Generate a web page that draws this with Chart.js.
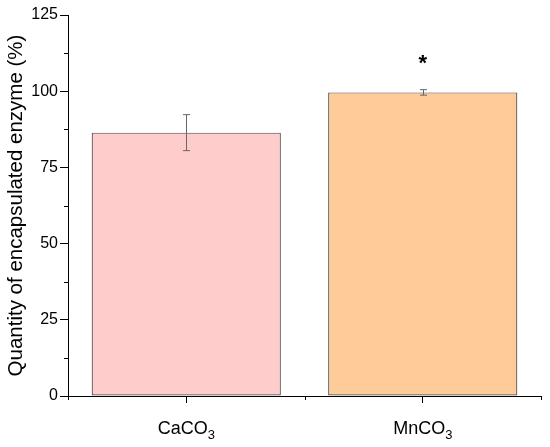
<!DOCTYPE html>
<html>
<head>
<meta charset="utf-8">
<script src="https://cdn.jsdelivr.net/npm/chart.js@4.4.1/dist/chart.umd.min.js"></script>
<style>
  html, body { margin: 0; padding: 0; background: #fff; }
  #wrap { width: 550px; height: 447px; position: relative; }
</style>
</head>
<body>
<div id="wrap"><canvas id="c"></canvas></div>
<script>
// ---- data ----
const categories = ['CaCO', 'MnCO'];
const subscripts = ['3', '3'];
const values = [86.4, 99.6];
const errors = [5.9, 0.9];
const significance = ['', '*'];
const barColors = ['#FFCCCC', '#FFCC99'];
const yTicks = [0, 25, 50, 75, 100, 125];
const yTitle = 'Quantity of encapsulated enzyme (%)';

const FONT = "'Liberation Sans', Arial, Helvetica, sans-serif";

const extrasPlugin = {
  id: 'extras',
  afterDatasetsDraw(chart) {
    const ctx = chart.ctx;
    const x = chart.scales.x, y = chart.scales.y;
    const meta = chart.getDatasetMeta(0);
    ctx.save();
    // error bars
    ctx.strokeStyle = '#666666';
    ctx.lineWidth = 1;
    meta.data.forEach((bar, i) => {
      const cx = Math.round(bar.x) + 0.5;
      const yt = y.getPixelForValue(values[i] + errors[i]);
      const yb = y.getPixelForValue(values[i] - errors[i]);
      ctx.beginPath();
      ctx.moveTo(cx, yt); ctx.lineTo(cx, yb);
      ctx.moveTo(cx - 3.5, yt); ctx.lineTo(cx + 3.5, yt);
      ctx.moveTo(cx - 3.5, yb); ctx.lineTo(cx + 3.5, yb);
      ctx.stroke();
    });
    // significance markers
    ctx.fillStyle = '#000';
    ctx.font = 'bold 22px ' + FONT;
    ctx.textAlign = 'center';
    ctx.textBaseline = 'alphabetic';
    meta.data.forEach((bar, i) => {
      if (!significance[i]) return;
      const yt = y.getPixelForValue(values[i] + errors[i]);
      ctx.fillText(significance[i], bar.x, yt - 19.5);
    });
    // minor ticks on y
    ctx.strokeStyle = '#000';
    ctx.beginPath();
    for (let k = 0; k < yTicks.length - 1; k++) {
      const v = (yTicks[k] + yTicks[k + 1]) / 2;
      const py = Math.round(y.getPixelForValue(v)) + 0.5;
      ctx.moveTo(x.left, py); ctx.lineTo(x.left - 4, py);
    }
    // minor ticks on x at category boundaries
    const n = categories.length;
    for (let k = 0; k <= n; k++) {
      const px = Math.round(x.getPixelForValue(k - 0.5)) + 0.5;
      ctx.moveTo(px, y.bottom); ctx.lineTo(px, y.bottom + 4);
    }
    ctx.stroke();
    // x labels with subscripts
    ctx.fillStyle = '#000';
    ctx.textBaseline = 'alphabetic';
    ctx.textAlign = 'left';
    categories.forEach((lab, i) => {
      const cx = x.getPixelForValue(i);
      ctx.font = '18px ' + FONT;
      const w1 = ctx.measureText(lab).width;
      ctx.font = '13px ' + FONT;
      const w2 = ctx.measureText(subscripts[i]).width;
      const start = cx - (w1 + w2) / 2;
      ctx.font = '18px ' + FONT;
      ctx.fillText(lab, start, 434);
      ctx.font = '13px ' + FONT;
      ctx.fillText(subscripts[i], start + w1, 439);
    });
    ctx.restore();
  }
};

new Chart(document.getElementById('c'), {
  type: 'bar',
  data: {
    labels: categories,
    datasets: [{
      data: values,
      backgroundColor: barColors,
      borderColor: '#4d4d4d',
      borderWidth: 1.2,
      borderSkipped: false,
      barPercentage: 0.8,
      categoryPercentage: 1.0
    }]
  },
  options: {
    responsive: true,
    maintainAspectRatio: false,
    animation: false,
    layout: { padding: { top: 15, right: 9, left: 0, bottom: 0 } },
    plugins: { legend: { display: false }, tooltip: { enabled: false } },
    scales: {
      x: {
        offset: true,
        grid: { display: true, drawOnChartArea: false, drawTicks: true, tickLength: 7, offset: false, color: '#000', tickColor: '#000' },
        border: { display: true, color: '#000', width: 1 },
        ticks: { callback: () => '', padding: 0 },
        afterFit(s) { s.height = 51; }
      },
      y: {
        min: 0, max: 125,
        afterBuildTicks(s) { s.ticks = yTicks.map(v => ({ value: v })); },
        grid: { display: true, drawOnChartArea: false, drawTicks: true, tickLength: 8, color: '#000', tickColor: '#000' },
        border: { display: true, color: '#000', width: 1 },
        ticks: { color: '#000', font: { size: 16, family: FONT }, padding: 2 },
        title: { display: true, text: yTitle, color: '#000', font: { size: 20.5, family: FONT }, padding: { top: 4, bottom: 0 } },
        afterFit(s) { s.width = 68; }
      }
    }
  },
  plugins: [extrasPlugin]
});
</script>
</body>
</html>
